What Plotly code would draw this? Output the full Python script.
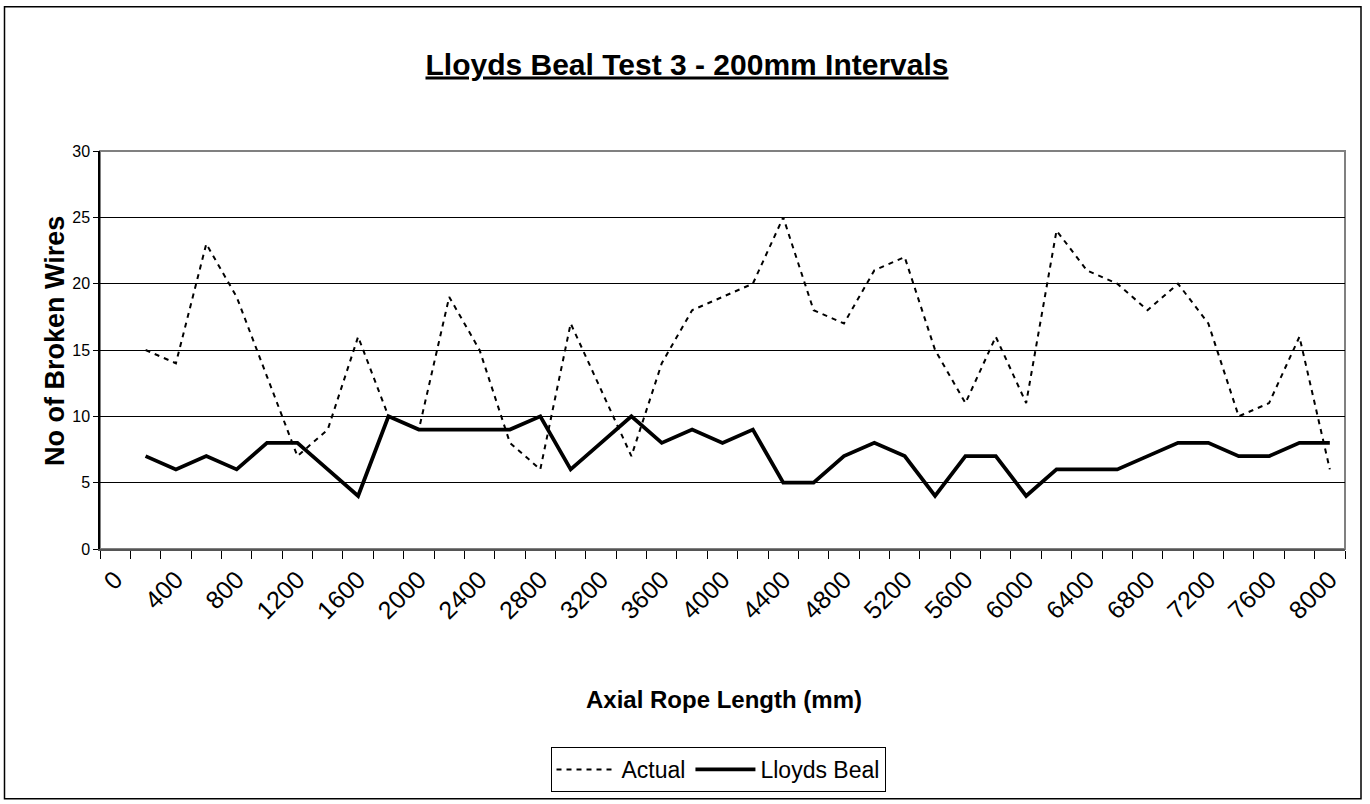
import plotly.graph_objects as go

# Axial rope length (mm) of each measured interval
lengths = [200, 400, 600, 800, 1000, 1200, 1400, 1600, 1800, 2000,
           2200, 2400, 2600, 2800, 3000, 3200, 3400, 3600, 3800, 4000,
           4200, 4400, 4600, 4800, 5000, 5200, 5400, 5600, 5800, 6000,
           6200, 6400, 6600, 6800, 7000, 7200, 7400, 7600, 7800, 8000]

actual = [15, 14, 23, 19, 13, 7, 9, 16, 10, 9,
          19, 15, 8, 6, 17, 12, 7, 14, 18, 19,
          20, 25, 18, 17, 21, 22, 15, 11, 16, 11,
          24, 21, 20, 18, 20, 17, 10, 11, 16, 6]

lloyds_beal = [7, 6, 7, 6, 8, 8, 6, 4, 10, 9,
               9, 9, 9, 10, 6, 8, 10, 8, 9, 8,
               9, 5, 5, 7, 8, 7, 4, 7, 7, 4,
               6, 6, 6, 7, 8, 8, 7, 7, 8, 8]

tick_values = [0, 400, 800, 1200, 1600, 2000, 2400, 2800, 3200, 3600, 4000,
               4400, 4800, 5200, 5600, 6000, 6400, 6800, 7200, 7600, 8000]
tick_labels = [str(v) for v in tick_values]

FONT = "Liberation Sans, Arial, sans-serif"

fig = go.Figure()
fig.add_trace(go.Scatter(
    x=lengths, y=actual, mode="lines", name="Actual",
    line=dict(color="black", width=2, dash="5px,5px"),
))
fig.add_trace(go.Scatter(
    x=lengths, y=lloyds_beal, mode="lines", name="Lloyds Beal",
    line=dict(color="black", width=3.8),
))

# plot area: left 100, right 1345, top 151, bottom 551 (px)
L, R, T, B = 100, 1345, 151, 551
W, H = 1370, 804

def px_x(p):
    return (p - L) / (R - L)

def px_y(p):
    return (B - p) / (B - T)

fig.update_layout(
    width=W, height=H,
    margin=dict(l=L, r=W - R, t=T, b=H - B),
    paper_bgcolor="white", plot_bgcolor="white",
    font=dict(family=FONT, color="black"),
    title=dict(
        text="<b><u>Lloyds Beal Test 3 - 200mm Intervals</u></b>",
        x=687 / W, xanchor="center", y=1 - 64 / H, yanchor="middle",
        font=dict(size=30, family=FONT, color="black"),
    ),
    showlegend=True,
    legend=dict(
        orientation="h", x=px_x(718), xanchor="center",
        y=px_y(750), yanchor="top",
        bordercolor="black", borderwidth=1, bgcolor="white",
        font=dict(size=23, family=FONT, color="black"),
        itemwidth=60, tracegroupgap=0,
    ),
    xaxis=dict(
        range=[-100, 8100], tickmode="array",
        tickvals=tick_values, ticktext=tick_labels,
        tickangle=-45, tickfont=dict(size=25, family=FONT, color="black"),
        ticks="outside", ticklen=4, tickcolor="rgba(0,0,0,0)",
        showgrid=False, zeroline=False,
        showline=True, linecolor="#555", linewidth=2,
        minor=dict(tickmode="linear", tick0=-100, dtick=200,
                   ticks="outside", ticklen=8, tickcolor="black",
                   tickwidth=1, showgrid=False),
    ),
    yaxis=dict(
        range=[0, 30], tickmode="linear", tick0=0, dtick=5,
        tickfont=dict(size=16, family=FONT, color="black"),
        ticks="outside", ticklen=5, tickcolor="black",
        showgrid=True, gridcolor="black", gridwidth=1,
        zeroline=False, showline=True, linecolor="black", linewidth=1.5,
    ),
    annotations=[
        dict(text="<b>No of Broken Wires</b>", xref="paper", yref="paper",
             x=px_x(55), y=px_y(342), textangle=-90, showarrow=False,
             xanchor="center", yanchor="middle",
             font=dict(size=27, family=FONT, color="black")),
        dict(text="<b>Axial Rope Length (mm)</b>", xref="paper", yref="paper",
             x=px_x(724), y=px_y(702), showarrow=False,
             xanchor="center", yanchor="middle",
             font=dict(size=24, family=FONT, color="black")),
    ],
    shapes=[
        # plot-area border
        dict(type="rect", xref="paper", yref="paper", x0=0, x1=1, y0=0, y1=1,
             line=dict(color="#808080", width=2), layer="below"),
        # chart-area border
        dict(type="rect", xref="paper", yref="paper",
             x0=px_x(4.5), x1=px_x(1361), y0=px_y(802), y1=px_y(6),
             line=dict(color="black", width=1.5)),
    ],
)

fig.write_html("out.html", config={"displayModeBar": False},
               post_script="document.body.style.margin='0';")
